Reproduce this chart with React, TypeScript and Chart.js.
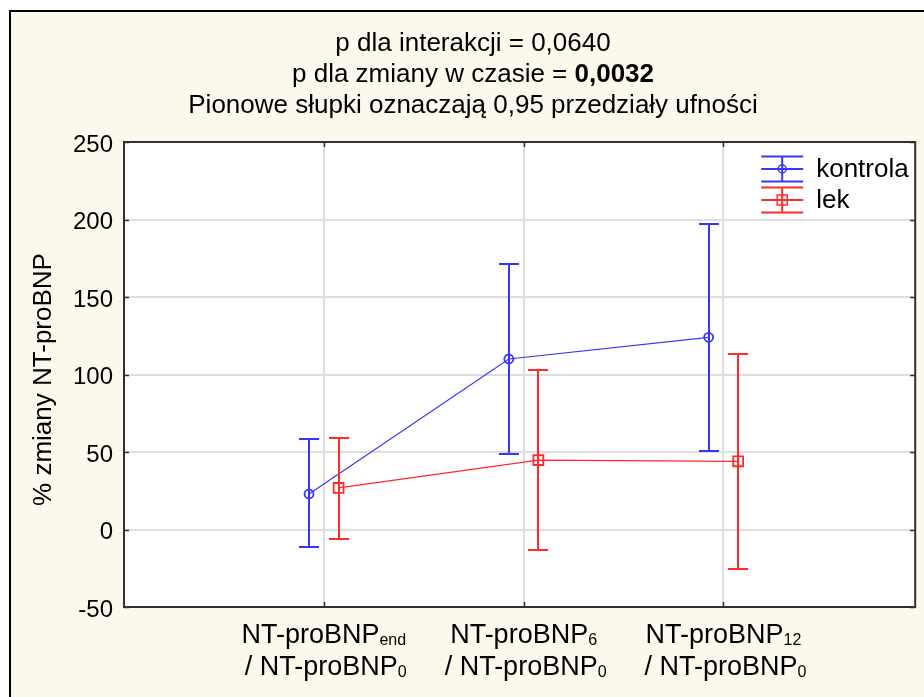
import React, { useEffect, useRef } from "react";
import { Chart, registerables } from "chart.js";

Chart.register(...registerables);

// ---------- data ----------
const categoryPositions = [1, 2, 3];
const xLabelMain = ["NT-proBNP", "NT-proBNP", "NT-proBNP"];
const xLabelSub = ["end", "6", "12"];
const xLabel2Main = ["/ NT-proBNP", "/ NT-proBNP", "/ NT-proBNP"];
const xLabel2Sub = ["0", "0", "0"];

const kontrolaMean = [22.9, 110.0, 124.0];
const kontrolaLow = [-11.1, 48.9, 50.4];
const kontrolaHigh = [58.3, 171.2, 197.0];

const lekMean = [26.8, 44.8, 44.0];
const lekLow = [-6.1, -13.0, -25.5];
const lekHigh = [59.0, 102.6, 113.2];

const xMin = 0;
const xMax = 3.96;
const yMin = -50;
const yMax = 250;
const yStep = 50;

const titleLine1 = "p dla interakcji = 0,0640";
const titleLine2a = "p dla zmiany w czasie = ";
const titleLine2b = "0,0032";
const titleLine3 = "Pionowe słupki oznaczają 0,95 przedziały ufności";
const yAxisTitle = "% zmiany NT-proBNP";
const seriesNames = ["kontrola", "lek"];

// ---------- style ----------
const FONT = '"Liberation Sans", Arial, sans-serif';
const BLUE = "#3636ff";
const RED = "#ff2a2a";
const BG = "#fdf8ec";
const GRID = "#dedede";
const OFFSET = 0.074;
const CAP = 10;

function drawSubText(ctx: CanvasRenderingContext2D, main: string, sub: string, cx: number, baseline: number, size: number, subSize: number) {
  ctx.font = `${size}px ${FONT}`;
  const wm = ctx.measureText(main).width;
  ctx.font = `${subSize}px ${FONT}`;
  const ws = ctx.measureText(sub).width;
  const x0 = cx - (wm + ws) / 2;
  ctx.textAlign = "left";
  ctx.textBaseline = "alphabetic";
  ctx.font = `${size}px ${FONT}`;
  ctx.fillText(main, x0, baseline);
  ctx.font = `${subSize}px ${FONT}`;
  ctx.fillText(sub, x0 + wm, baseline + 2);
}

const decorPlugin = {
  id: "decor",
  beforeDraw(chart: any) {
    const { ctx, width, height, chartArea: a } = chart;
    ctx.save();
    ctx.fillStyle = "#ffffff";
    ctx.fillRect(0, 0, width, height);
    ctx.fillStyle = BG;
    ctx.fillRect(10, 11, width, height);
    ctx.strokeStyle = "#000";
    ctx.lineWidth = 2;
    ctx.beginPath();
    ctx.moveTo(10, height + 5);
    ctx.lineTo(10, 11);
    ctx.lineTo(width + 5, 11);
    ctx.stroke();
    ctx.fillStyle = "#ffffff";
    ctx.fillRect(a.left, a.top, a.right - a.left, a.bottom - a.top);
    ctx.restore();
  },
  afterDatasetsDraw(chart: any) {
    const { ctx } = chart;
    const xs = chart.scales.x;
    const ys = chart.scales.y;
    const series = [
      { lo: kontrolaLow, hi: kontrolaHigh, off: -OFFSET, color: BLUE },
      { lo: lekLow, hi: lekHigh, off: OFFSET, color: RED },
    ];
    ctx.save();
    ctx.lineWidth = 2;
    series.forEach((s) => {
      ctx.strokeStyle = s.color;
      categoryPositions.forEach((p, i) => {
        const x = Math.round(xs.getPixelForValue(p + s.off));
        const y1 = Math.round(ys.getPixelForValue(s.hi[i]));
        const y2 = Math.round(ys.getPixelForValue(s.lo[i]));
        ctx.beginPath();
        ctx.moveTo(x, y1);
        ctx.lineTo(x, y2);
        ctx.moveTo(x - CAP, y1);
        ctx.lineTo(x + CAP, y1);
        ctx.moveTo(x - CAP, y2);
        ctx.lineTo(x + CAP, y2);
        ctx.stroke();
      });
    });
    ctx.restore();
  },
  afterDraw(chart: any) {
    const { ctx, chartArea: a } = chart;
    const xs = chart.scales.x;
    const ys = chart.scales.y;
    ctx.save();
    // plot border
    ctx.strokeStyle = "#303030";
    ctx.lineWidth = 2;
    ctx.strokeRect(a.left, a.top, a.right - a.left, a.bottom - a.top);
    // inward ticks
    ctx.lineWidth = 1.5;
    ctx.beginPath();
    categoryPositions.forEach((p) => {
      const x = Math.round(xs.getPixelForValue(p)) + 0.5;
      ctx.moveTo(x, a.bottom);
      ctx.lineTo(x, a.bottom - 5);
      ctx.moveTo(x, a.top);
      ctx.lineTo(x, a.top + 5);
    });
    for (let v = yMin; v <= yMax; v += yStep) {
      const y = Math.round(ys.getPixelForValue(v)) + 0.5;
      ctx.moveTo(a.left, y);
      ctx.lineTo(a.left + 5, y);
      ctx.moveTo(a.right, y);
      ctx.lineTo(a.right - 5, y);
    }
    ctx.stroke();

    // title
    ctx.fillStyle = "#000";
    const cx = 473;
    const TS = 26;
    ctx.textAlign = "center";
    ctx.textBaseline = "alphabetic";
    ctx.font = `${TS}px ${FONT}`;
    ctx.fillText(titleLine1, cx, 51);
    ctx.fillText(titleLine3, cx, 113);
    ctx.font = `${TS}px ${FONT}`;
    const w2a = ctx.measureText(titleLine2a).width;
    ctx.font = `bold ${TS}px ${FONT}`;
    const w2b = ctx.measureText(titleLine2b).width;
    const x2 = cx - (w2a + w2b) / 2;
    ctx.textAlign = "left";
    ctx.font = `${TS}px ${FONT}`;
    ctx.fillText(titleLine2a, x2, 82);
    ctx.font = `bold ${TS}px ${FONT}`;
    ctx.fillText(titleLine2b, x2 + w2a, 82);

    // x labels
    categoryPositions.forEach((p, i) => {
      const x = xs.getPixelForValue(p);
      drawSubText(ctx, xLabelMain[i], xLabelSub[i], x, 643, 27, 16);
      drawSubText(ctx, xLabel2Main[i], xLabel2Sub[i], x + 2, 675, 27, 16);
    });

    // y title
    ctx.save();
    ctx.translate(51, (a.top + a.bottom) / 2 + 5);
    ctx.rotate(-Math.PI / 2);
    ctx.textAlign = "center";
    ctx.textBaseline = "alphabetic";
    ctx.font = `26px ${FONT}`;
    ctx.fillText(yAxisTitle, 0, 0);
    ctx.restore();

    // legend
    const items = [
      { name: seriesNames[0], color: BLUE, y: a.top + 27, style: "circle" },
      { name: seriesNames[1], color: RED, y: a.top + 58, style: "rect" },
    ];
    items.forEach((it) => {
      const x1 = a.right - 154;
      const x2l = a.right - 112;
      const xm = (x1 + x2l) / 2;
      ctx.strokeStyle = it.color;
      ctx.lineWidth = 2;
      ctx.beginPath();
      ctx.moveTo(x1, it.y - 12.5);
      ctx.lineTo(x2l, it.y - 12.5);
      ctx.moveTo(x1, it.y);
      ctx.lineTo(x2l, it.y);
      ctx.moveTo(x1, it.y + 12.5);
      ctx.lineTo(x2l, it.y + 12.5);
      ctx.moveTo(xm, it.y - 12.5);
      ctx.lineTo(xm, it.y + 12.5);
      ctx.stroke();
      ctx.lineWidth = 1.5;
      ctx.beginPath();
      if (it.style === "circle") {
        ctx.arc(xm, it.y, 4, 0, Math.PI * 2);
      } else {
        ctx.rect(xm - 5, it.y - 5, 10, 10);
      }
      ctx.stroke();
      ctx.fillStyle = "#000";
      ctx.textAlign = "left";
      ctx.textBaseline = "middle";
      ctx.font = `26px ${FONT}`;
      ctx.fillText(it.name, a.right - 99, it.y + 1);
    });
    ctx.restore();
  },
};

export default function App() {
  const ref = useRef<HTMLCanvasElement | null>(null);
  useEffect(() => {
    if (!ref.current) return;
    const chart = new Chart(ref.current, {
      type: "line",
      data: {
        datasets: [
          {
            label: seriesNames[0],
            data: kontrolaMean.map((y, i) => ({ x: categoryPositions[i] - OFFSET, y })),
            borderColor: BLUE,
            backgroundColor: "transparent",
            borderWidth: 1.2,
            pointStyle: "circle",
            pointRadius: 4.5,
            pointBorderWidth: 1.8,
            pointBorderColor: BLUE,
            pointBackgroundColor: "transparent",
            tension: 0,
          },
          {
            label: seriesNames[1],
            data: lekMean.map((y, i) => ({ x: categoryPositions[i] + OFFSET, y })),
            borderColor: RED,
            backgroundColor: "transparent",
            borderWidth: 1.2,
            pointStyle: "rect",
            pointRadius: 7,
            pointBorderWidth: 1.8,
            pointBorderColor: RED,
            pointBackgroundColor: "transparent",
            tension: 0,
          },
        ],
      },
      options: {
        animation: false,
        responsive: false,
        events: [],
        layout: { padding: { left: 0, top: 142, right: 0, bottom: 0 } },
        plugins: {
          legend: { display: false },
          tooltip: { enabled: false },
          title: { display: false },
        },
        scales: {
          x: {
            type: "linear",
            min: xMin,
            max: xMax,
            afterBuildTicks: (s: any) => {
              s.ticks = categoryPositions.map((v) => ({ value: v }));
            },
            afterFit: (s: any) => {
              s.height = 90;
            },
            ticks: { display: false },
            grid: { color: GRID, lineWidth: 2, drawTicks: false },
            border: { display: false },
          },
          y: {
            type: "linear",
            min: yMin,
            max: yMax,
            ticks: {
              stepSize: yStep,
              color: "#000",
              padding: 11,
              labelOffset: 3,
              font: { family: FONT, size: 24 },
            },
            afterFit: (s: any) => {
              s.width = 124;
            },
            grid: { color: GRID, lineWidth: 2, drawTicks: false },
            border: { display: false },
          },
        },
      },
      plugins: [decorPlugin],
    } as any);
    return () => chart.destroy();
  }, []);
  return (
    <div style={{ position: "absolute", left: 0, top: 0, width: 924, height: 697 }}>
      <canvas ref={ref} width={924} height={697} style={{ display: "block" }} />
    </div>
  );
}
